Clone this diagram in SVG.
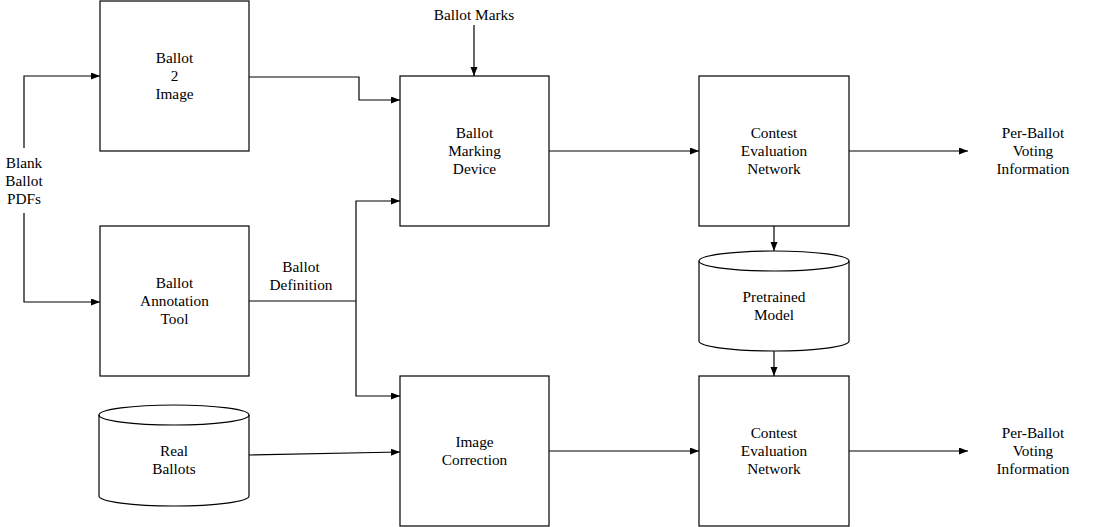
<svg xmlns="http://www.w3.org/2000/svg" width="1100" height="527" viewBox="0 0 1100 527">
<style>
.box{fill:#fff;stroke:#000;stroke-width:1.2}
.cyl{fill:#fff;stroke:#000;stroke-width:1.2}
.t{font-family:'Liberation Serif','Times New Roman',Times,serif;font-size:15.3px;fill:#000;text-anchor:middle}
.c{fill:none;stroke:#000;stroke-width:1.2}
</style>
<defs>
<marker id="ah" markerUnits="userSpaceOnUse" markerWidth="10" markerHeight="8" refX="9" refY="3.5" orient="auto">
<path d="M0,0 L9,3.5 L0,7 z" fill="#000"/>
</marker>
</defs>
<rect width="1100" height="527" fill="#fff"/>
<g id="connectors">
<path class="c" d="M474,25 V76" marker-end="url(#ah)"/>
<path class="c" d="M249,77 H359 V100 H400" marker-end="url(#ah)"/>
<path class="c" d="M24,148 V76 H100" marker-end="url(#ah)"/>
<path class="c" d="M24,213 V302 H100" marker-end="url(#ah)"/>
<path class="c" d="M249,301 H356"/>
<path class="c" d="M356,301 V201 H400" marker-end="url(#ah)"/>
<path class="c" d="M356,301 V396 H400" marker-end="url(#ah)"/>
<path class="c" d="M249,455 L400,452" marker-end="url(#ah)"/>
<path class="c" d="M549,151 H699" marker-end="url(#ah)"/>
<path class="c" d="M849,151 H968" marker-end="url(#ah)"/>
<path class="c" d="M774,226 V251" marker-end="url(#ah)"/>
<path class="c" d="M774,351 V376" marker-end="url(#ah)"/>
<path class="c" d="M549,451 H699" marker-end="url(#ah)"/>
<path class="c" d="M849,451 H968" marker-end="url(#ah)"/>
</g>
<g id="blank-ballot-pdfs">
<text class="t" x="24" y="168">Blank</text>
<text class="t" x="24" y="186">Ballot</text>
<text class="t" x="24" y="204">PDFs</text>
</g>
<g id="ballot-marks">
<text class="t" x="474" y="20">Ballot Marks</text>
</g>
<g id="ballot-definition">
<text class="t" x="301" y="272">Ballot</text>
<text class="t" x="301" y="290">Definition</text>
</g>
<g id="ballot2image">
<rect class="box" x="100" y="1" width="149" height="150"/>
<text class="t" x="174.5" y="63">Ballot</text>
<text class="t" x="174.5" y="81">2</text>
<text class="t" x="174.5" y="99">Image</text>
</g>
<g id="annotation-tool">
<rect class="box" x="100" y="226" width="149" height="150"/>
<text class="t" x="174.5" y="288">Ballot</text>
<text class="t" x="174.5" y="306">Annotation</text>
<text class="t" x="174.5" y="324">Tool</text>
</g>
<g id="real-ballots">
<path class="cyl" d="M99,415 a75,10 0 0 1 150,0 v81 a75,10 0 0 1 -150,0 z"/>
<path class="c" d="M99,415 a75,10 0 0 0 150,0"/>
<text class="t" x="174" y="456">Real</text>
<text class="t" x="174" y="474">Ballots</text>
</g>
<g id="marking-device">
<rect class="box" x="400" y="76" width="149" height="150"/>
<text class="t" x="474.5" y="138">Ballot</text>
<text class="t" x="474.5" y="156">Marking</text>
<text class="t" x="474.5" y="174">Device</text>
</g>
<g id="image-correction">
<rect class="box" x="400" y="376" width="149" height="150"/>
<text class="t" x="474.5" y="447">Image</text>
<text class="t" x="474.5" y="465">Correction</text>
</g>
<g id="cen-top">
<rect class="box" x="699" y="76" width="150" height="150"/>
<text class="t" x="774" y="138">Contest</text>
<text class="t" x="774" y="156">Evaluation</text>
<text class="t" x="774" y="174">Network</text>
</g>
<g id="pretrained-model">
<path class="cyl" d="M699,261 a75,10 0 0 1 150,0 v80 a75,10 0 0 1 -150,0 z"/>
<path class="c" d="M699,261 a75,10 0 0 0 150,0"/>
<text class="t" x="774" y="302">Pretrained</text>
<text class="t" x="774" y="320">Model</text>
</g>
<g id="cen-bottom">
<rect class="box" x="699" y="376" width="150" height="150"/>
<text class="t" x="774" y="438">Contest</text>
<text class="t" x="774" y="456">Evaluation</text>
<text class="t" x="774" y="474">Network</text>
</g>
<g id="output-top">
<text class="t" x="1033" y="138">Per-Ballot</text>
<text class="t" x="1033" y="156">Voting</text>
<text class="t" x="1033" y="174">Information</text>
</g>
<g id="output-bottom">
<text class="t" x="1033" y="438">Per-Ballot</text>
<text class="t" x="1033" y="456">Voting</text>
<text class="t" x="1033" y="474">Information</text>
</g>
</svg>
